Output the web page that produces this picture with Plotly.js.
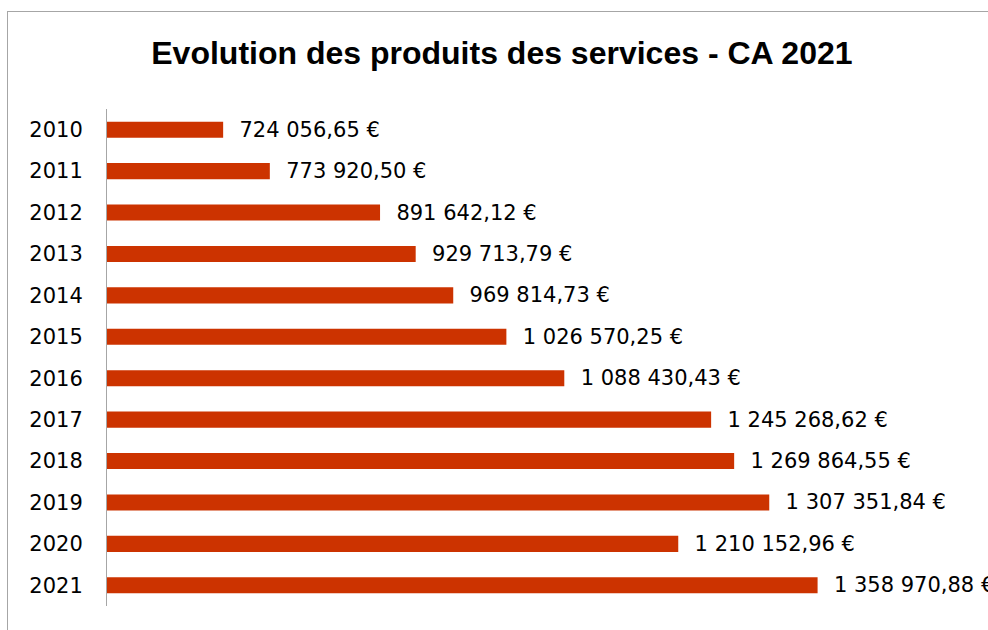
<!DOCTYPE html>
<html>
<head>
<meta charset="utf-8">
<script src="https://cdn.plot.ly/plotly-3.0.1.min.js"></script>
<style>
  body { margin: 0; background: #fff; }
  #wrap { position: relative; width: 988px; height: 630px; overflow: hidden; }
  #frame { position: absolute; left: 7px; top: 11px; width: 1100px; height: 700px;
           border: 1px solid #a6a6a6; pointer-events: none; }
  #chart { position: absolute; left: 0; top: 0; width: 988px; height: 630px; }
</style>
</head>
<body>
<div id="wrap">
  <div id="frame"></div>
  <div id="chart"></div>
</div>
<script>
document.addEventListener("DOMContentLoaded", function () {

  const years = ['2010', '2011', '2012', '2013', '2014', '2015',
                 '2016', '2017', '2018', '2019', '2020', '2021'];

  const produits = [724056.65, 773920.50, 891642.12, 929713.79, 969814.73, 1026570.25,
                    1088430.43, 1245268.62, 1269864.55, 1307351.84, 1210152.96, 1358970.88];

  const labelFont = "DejaVu Sans, sans-serif";

  const data = [
    {
      y: years,
      x: produits,
      type: "bar",
      orientation: "h",
      marker: { color: "#cc3300" },
      texttemplate: "\u00a0\u00a0%{x:,.2f} €",
      textposition: "outside",
      constraintext: "none",
      cliponaxis: false,
      textfont: { family: labelFont, size: 21, color: "#000" },
      hoverinfo: "none"
    }
  ];

  const layout = {
    width: 988,
    height: 630,
    separators: ", ",
    paper_bgcolor: "rgba(0,0,0,0)",
    plot_bgcolor: "rgba(0,0,0,0)",
    margin: { l: 107, r: 132, t: 109, b: 24 },
    bargap: 0.61,
    showlegend: false,
    title: {
      text: "<b>Evolution des produits des services - CA 2021</b>",
      font: { family: "Liberation Sans, Arial, sans-serif", size: 32, color: "#000" },
      xref: "container", x: 0.508, xanchor: "center",
      yref: "container", y: 0.916, yanchor: "middle"
    },
    xaxis: {
      range: [600000, 1400000],
      visible: false,
      fixedrange: true
    },
    yaxis: {
      type: "category",
      autorange: "reversed",
      showline: true,
      linecolor: "#a6a6a6",
      linewidth: 1,
      showgrid: false,
      ticks: "",
      ticklabelstandoff: 19,
      tickfont: { family: labelFont, size: 21, color: "#000" },
      fixedrange: true
    }
  };

  Plotly.newPlot("chart", data, layout, { displayModeBar: false, staticPlot: true });

});
</script>
</body>
</html>
